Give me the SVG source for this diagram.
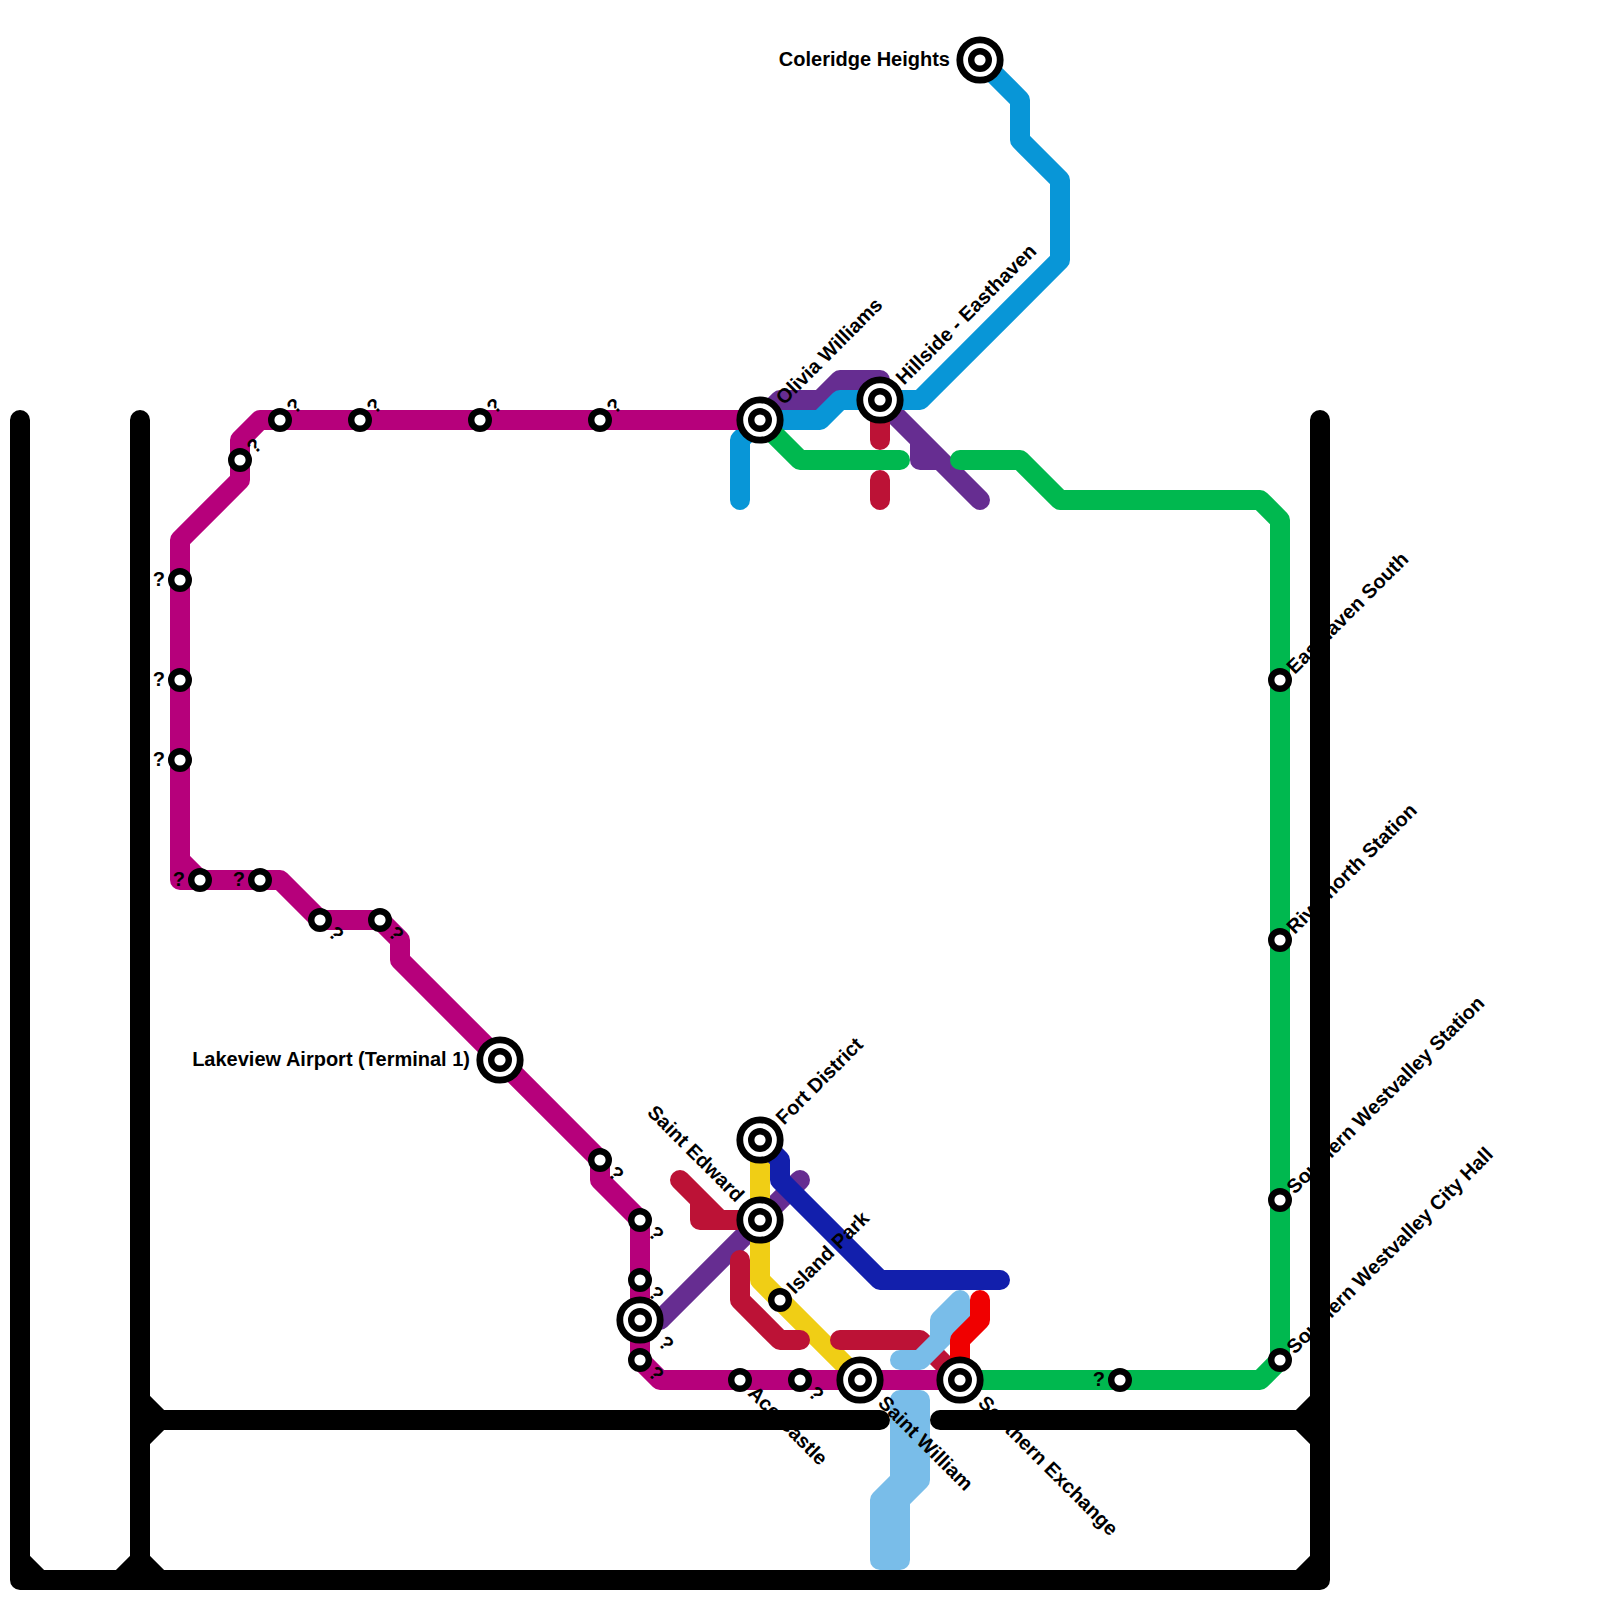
<svg xmlns="http://www.w3.org/2000/svg" width="1600" height="1600" viewBox="0 0 1600 1600">
<style>
.l{fill:none;stroke-width:20;stroke-linecap:round;stroke-linejoin:round}
.s{fill:#fff;stroke:#000;stroke-width:6.4}
.o{fill:#fff;stroke:#000;stroke-width:6.8}
text{font-family:"Liberation Sans",Arial,sans-serif;font-size:20px;font-weight:bold;fill:#000}
.e{text-anchor:end}
</style>
<defs>
<g id="st"><circle class="s" r="8.8"/></g>
<g id="ix"><circle class="o" r="20.2"/><circle class="s" r="8.8"/></g>
</defs>
<rect width="1600" height="1600" fill="#fff"/>
<g id="connectors">
<path id="line-black" class="l" stroke="#000" d="M20,420V1580H1320V420M140,420V1580M140,1420H880M940,1420H1320M20,1560L40,1580M140,1560L120,1580M140,1560L160,1580M1300,1580L1320,1560M140,1400L160,1420L140,1440M1300,1420L1320,1400M1300,1420L1320,1440"/>
<path id="line-purple" class="l" stroke="#662d91" d="M760,420L780,400H820L840,380H880V400L980,500M920,440V460H940M660,1320L800,1180"/>
<path id="line-blue" class="l" stroke="#0896d7" d="M740,500V440L760,420H820L840,400H920L1060,260V180L1020,140V100L980,60"/>
<path id="line-yellow" class="l" stroke="#f0ce15" d="M760,1140V1280L860,1380"/>
<path id="line-crimson" class="l" stroke="#bc1236" d="M880,400V440M880,480V500M680,1180L720,1220H760M700,1200V1220H720M740,1260V1300L780,1340H800M840,1340H920L960,1380"/>
<path id="line-navy" class="l" stroke="#121fac" d="M760,1140L780,1160V1180L880,1280H1000"/>
<path id="line-magenta" class="l" stroke="#b6007b" d="M760,420H260L240,440V480L180,540V880H280L320,920H380L400,940V960L600,1160V1180L640,1220V1360L660,1380H960M180,860L200,880"/>
<path id="line-sky" class="l" stroke="#79bde9" d="M900,1360H920L960,1320V1300L940,1320V1340M900,1400H920V1480L900,1500V1560H880V1500L900,1480V1400"/>
<path id="line-red" class="l" stroke="#f00000" d="M980,1300V1320L960,1340V1380"/>
<path id="line-green" class="l" stroke="#00b84f" d="M760,420L800,460H900M960,460H1020L1060,500H1260L1280,520V1360L1260,1380H960"/>
</g>
<g id="n-coleridge"><use href="#ix" x="980" y="60"/><text class="e" x="950" y="66">Coleridge Heights</text></g>
<g id="n-olivia"><use href="#ix" x="760" y="420"/><text transform="translate(760,420) rotate(-45)" x="27" y="7">Olivia Williams</text></g>
<g id="n-hillside"><use href="#ix" x="880" y="400"/><text transform="translate(880,400) rotate(-45)" x="27" y="7">Hillside - Easthaven</text></g>
<g id="n-lakeview"><use href="#ix" x="500" y="1060"/><text class="e" x="470" y="1066">Lakeview Airport (Terminal 1)</text></g>
<g id="n-fort"><use href="#ix" x="760" y="1140"/><text transform="translate(760,1140) rotate(-45)" x="27" y="7">Fort District</text></g>
<g id="n-edward"><use href="#ix" x="760" y="1220"/><text class="e" transform="translate(760,1220) rotate(45)" x="-29" y="5">Saint Edward</text></g>
<g id="n-island"><use href="#st" x="780" y="1300"/><text transform="translate(780,1300) rotate(-45)" x="14" y="7">Island Park</text></g>
<g id="n-ace"><use href="#st" x="740" y="1380"/><text transform="translate(740,1380) rotate(45)" x="15" y="5">Ace Castle</text></g>
<g id="n-william"><use href="#ix" x="860" y="1380"/><text transform="translate(860,1380) rotate(45)" x="29" y="5">Saint William</text></g>
<g id="n-exchange"><use href="#ix" x="960" y="1380"/><text transform="translate(960,1380) rotate(45)" x="29" y="5">Southern Exchange</text></g>
<g id="n-easthaven"><use href="#st" x="1280" y="680"/><text transform="translate(1280,680) rotate(-45)" x="14" y="7">Easthaven South</text></g>
<g id="n-river"><use href="#st" x="1280" y="940"/><text transform="translate(1280,940) rotate(-45)" x="14" y="7">Rivernorth Station</text></g>
<g id="n-swv"><use href="#st" x="1280" y="1200"/><text transform="translate(1280,1200) rotate(-45)" x="14" y="7">Southern Westvalley Station</text></g>
<g id="n-swvch"><use href="#st" x="1280" y="1360"/><text transform="translate(1280,1360) rotate(-45)" x="14" y="7">Southern Westvalley City Hall</text></g>
<g id="n-q1"><use href="#st" x="180" y="580"/><text class="e" x="165" y="586">?</text></g>
<g id="n-q2"><use href="#st" x="180" y="680"/><text class="e" x="165" y="686">?</text></g>
<g id="n-q3"><use href="#st" x="180" y="760"/><text class="e" x="165" y="766">?</text></g>
<g id="n-q4"><use href="#st" x="200" y="880"/><text class="e" x="185" y="886">?</text></g>
<g id="n-q5"><use href="#st" x="260" y="880"/><text class="e" x="245" y="886">?</text></g>
<g id="n-q6"><use href="#st" x="1120" y="1380"/><text class="e" x="1105" y="1386">?</text></g>
<g id="n-q7"><use href="#st" x="240" y="460"/><text transform="translate(240,460) rotate(-45)" x="14" y="7">?</text></g>
<g id="n-q8"><use href="#st" x="280" y="420"/><text transform="translate(280,420) rotate(-45)" x="14" y="7">?</text></g>
<g id="n-q9"><use href="#st" x="360" y="420"/><text transform="translate(360,420) rotate(-45)" x="14" y="7">?</text></g>
<g id="n-q10"><use href="#st" x="480" y="420"/><text transform="translate(480,420) rotate(-45)" x="14" y="7">?</text></g>
<g id="n-q11"><use href="#st" x="600" y="420"/><text transform="translate(600,420) rotate(-45)" x="14" y="7">?</text></g>
<g id="n-q12"><use href="#st" x="320" y="920"/><text transform="translate(320,920) rotate(45)" x="15" y="5">?</text></g>
<g id="n-q13"><use href="#st" x="380" y="920"/><text transform="translate(380,920) rotate(45)" x="15" y="5">?</text></g>
<g id="n-q14"><use href="#st" x="600" y="1160"/><text transform="translate(600,1160) rotate(45)" x="15" y="5">?</text></g>
<g id="n-q15"><use href="#st" x="640" y="1220"/><text transform="translate(640,1220) rotate(45)" x="15" y="5">?</text></g>
<g id="n-q16"><use href="#st" x="640" y="1280"/><text transform="translate(640,1280) rotate(45)" x="15" y="5">?</text></g>
<g id="n-q17"><use href="#ix" x="640" y="1320"/><text transform="translate(640,1320) rotate(45)" x="29" y="5">?</text></g>
<g id="n-q18"><use href="#st" x="640" y="1360"/><text transform="translate(640,1360) rotate(45)" x="15" y="5">?</text></g>
<g id="n-q19"><use href="#st" x="800" y="1380"/><text transform="translate(800,1380) rotate(45)" x="15" y="5">?</text></g>
</svg>
